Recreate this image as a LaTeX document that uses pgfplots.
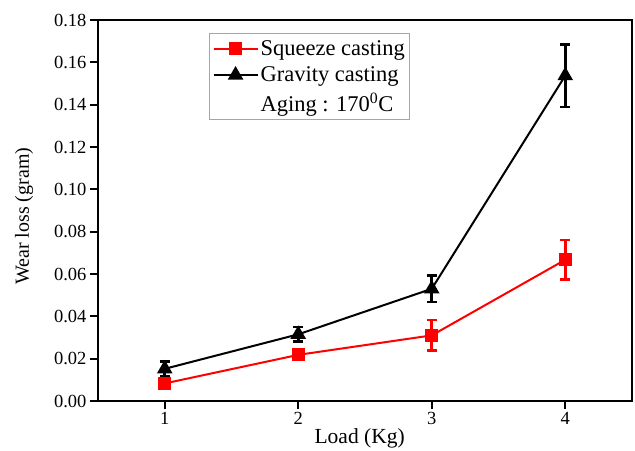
\documentclass[border=0pt]{standalone}
\usepackage{pgfplots}
\pgfplotsset{compat=1.18}
\usepackage{fontspec}
\setmainfont{Liberation Serif}

\begin{document}
\begin{tikzpicture}
% frame of the picture: 1 px of the reference = 1 pt
\path (-98pt,-47pt) rectangle (537pt,401pt);
\begin{axis}[
    scale only axis,
    width=534pt, height=381pt,
    xmin=0.5, xmax=4.5,
    ymin=0, ymax=0.18,
    xtick={1,2,3,4},
    ytick={0,0.02,0.04,0.06,0.08,0.10,0.12,0.14,0.16,0.18},
    yticklabel style={/pgf/number format/fixed, /pgf/number format/fixed zerofill,
        /pgf/number format/precision=2},
    /pgf/number format/assume math mode=true,
    scaled y ticks=false,
    tick label style={font=\fontsize{18.5}{20}\selectfont},
    xtick pos=bottom, ytick pos=left,
    tick align=outside,
    major tick length=8pt,
    tick style={line width=2pt, black},
    axis line style={line width=2.6pt},
    xlabel={Load (Kg)},
    ylabel={Wear loss (gram)},
    xlabel style={font=\fontsize{21.5}{24}\selectfont,
        at={(axis description cs:0.49,0)}, anchor=base, yshift=-42pt},
    ylabel style={font=\fontsize{20}{24}\selectfont,
        at={(axis description cs:-0.1386,0.485)}, anchor=center},
    legend cell align=left,
    legend style={at={(rel axis cs:0.208,0.966)}, anchor=north west,
        draw=gray!70, line width=1pt, font=\fontsize{22.5}{29}\selectfont,
        inner xsep=3pt, inner ysep=5pt, row sep=6pt},
    legend image code/.code={
        \draw[mark repeat=2, mark phase=2, #1] plot coordinates {(0pt,0pt) (22pt,0pt) (44pt,0pt)};
    },
    error bars/error bar style={line width=2.6pt},
    error bars/error mark options={rotate=90, mark size=5pt, line width=2.6pt},
]
\addplot[red, line width=2pt, mark=square*, mark size=5.5pt,
    error bars/.cd, y dir=both, y explicit]
    table[x=x, y=y, y error=e] {
    x  y       e
    1  0.0083  0.0020
    2  0.0218  0.0010
    3  0.0310  0.0072
    4  0.0667  0.0094
    };
\addlegendentry{Squeeze casting}
\addplot[black, line width=2pt, mark=triangle*, mark size=7pt,
    error bars/.cd, y dir=both, y explicit]
    table[x=x, y=y, y error=e] {
    x  y       e
    1  0.0152  0.0036
    2  0.0315  0.0035
    3  0.0530  0.0062
    4  0.1537  0.0148
    };
\addlegendentry{Gravity casting}
\addlegendimage{empty legend}
\addlegendentry{Aging : 170\textsuperscript{0}C}
\end{axis}
\end{tikzpicture}
\end{document}
